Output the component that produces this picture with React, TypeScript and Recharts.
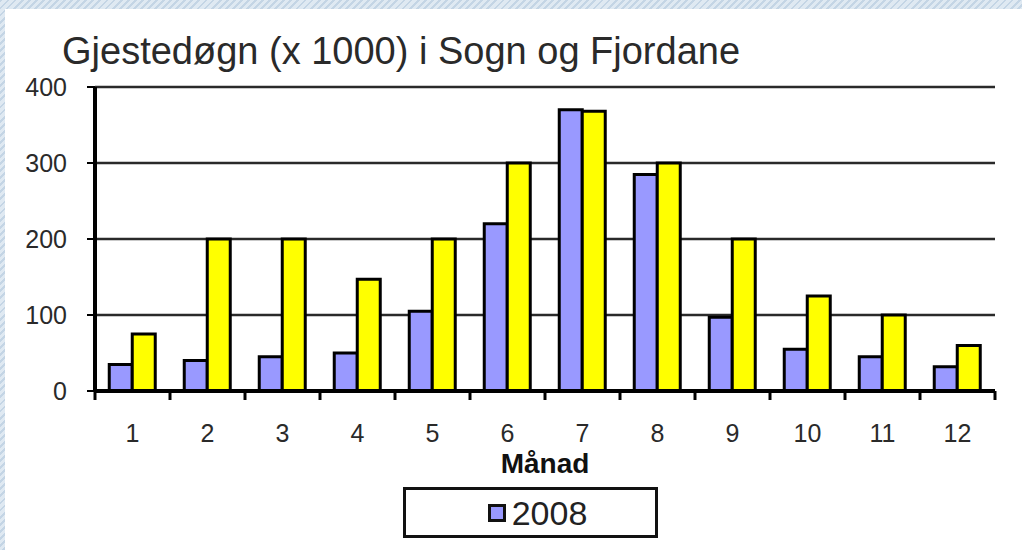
import React from 'react';
import { BarChart, Bar, XAxis, YAxis, CartesianGrid, Legend } from 'recharts';

// Gjestedøgn per month (x 1000)
const months = ['1', '2', '3', '4', '5', '6', '7', '8', '9', '10', '11', '12'];
const values2008 = [35, 40, 45, 50, 105, 220, 370, 285, 97, 55, 45, 32];
const valuesOther = [75, 200, 200, 147, 200, 300, 368, 300, 200, 125, 100, 60];
const yTicks = [0, 100, 200, 300, 400];

const FONT = '"Liberation Sans", Arial, sans-serif';
const W = 1022;
const H = 550;
const margin = { top: 87, right: 27, left: 0, bottom: 12 };
const Y_AXIS_W = 95;
const plotWidth = W - margin.left - margin.right - Y_AXIS_W;
const step = plotWidth / months.length;

const data = months.map((m, i) => ({
  month: m,
  y2008: values2008[i],
  other: valuesOther[i],
}));

const MonthTick = (props: any) => {
  const { x, y, payload, index } = props;
  const left = x - step / 2;
  const right = x + step / 2;
  return (
    <g>
      <line x1={left} x2={left} y1={y} y2={y + 9} stroke="#000" strokeWidth={3} />
      {index === months.length - 1 && (
        <line x1={right} x2={right} y1={y} y2={y + 9} stroke="#000" strokeWidth={3} />
      )}
      <text x={x} y={y + 51} textAnchor="middle" fontSize={25} fill="#2a2a2a" fontFamily={FONT}>
        {payload.value}
      </text>
    </g>
  );
};

const LegendBox = (props: any) => {
  const items = (props.payload || []).filter((p: any) => p.type !== 'none');
  return (
    <div
      style={{
        boxSizing: 'border-box',
        width: 255,
        height: 51,
        border: '3px solid #111',
        background: '#fff',
        display: 'flex',
        alignItems: 'center',
        justifyContent: 'center',
        paddingLeft: 14,
        fontFamily: FONT,
      }}
    >
      {items.map((item: any) => (
        <div key={item.value} style={{ display: 'flex', alignItems: 'center' }}>
          <span
            style={{
              boxSizing: 'border-box',
              display: 'inline-block',
              width: 18,
              height: 18,
              background: item.color,
              border: '3px solid #111',
              marginRight: 6,
            }}
          />
          <span style={{ fontSize: 34, color: '#222', lineHeight: 1 }}>{item.value}</span>
        </div>
      ))}
    </div>
  );
};

export default function App() {
  return (
    <div
      style={{
        position: 'absolute',
        top: 0,
        left: 0,
        width: W,
        height: H,
        overflow: 'hidden',
        background: 'repeating-linear-gradient(135deg, #c4d5e5 0px, #c4d5e5 2px, #dfe9f2 2px, #dfe9f2 5px)',
      }}
    >
      <div style={{ position: 'absolute', left: 5, top: 9, right: 0, bottom: 0, background: '#fff' }} />
      <div
        style={{
          position: 'absolute',
          left: 62,
          top: 32,
          fontFamily: FONT,
          fontSize: 38,
          lineHeight: 1,
          color: '#2a2a2a',
          whiteSpace: 'nowrap',
        }}
      >
        Gjestedøgn (x 1000) i Sogn og Fjordane
      </div>
      <div style={{ position: 'absolute', left: 0, top: 0 }}>
        <BarChart
          width={W}
          height={H}
          data={data}
          margin={margin}
          barCategoryGap="19%"
          barGap={0}
        >
          <CartesianGrid vertical={false} stroke="#2a2a2a" strokeWidth={2.5} />
          <XAxis
            dataKey="month"
            height={96}
            tickLine={false}
            tickSize={0}
            tickMargin={0}
            axisLine={{ stroke: '#000', strokeWidth: 4 }}
            tick={<MonthTick />}
            interval={0}
            label={{
              value: 'Månad',
              position: 'insideTop',
              offset: 62,
              fontSize: 28,
              fontWeight: 'bold',
              fill: '#111',
              fontFamily: FONT,
            }}
          />
          <YAxis
            width={Y_AXIS_W}
            domain={[0, 400]}
            ticks={yTicks}
            tickSize={8}
            tickMargin={20}
            tickLine={{ stroke: '#000', strokeWidth: 2 }}
            axisLine={{ stroke: '#000', strokeWidth: 4 }}
            tick={{ fontSize: 25, fill: '#2a2a2a', fontFamily: FONT }}
          />
          <YAxis
            yAxisId="frame"
            orientation="right"
            width={0}
            domain={[0, 400]}
            tick={false}
            tickLine={false}
            axisLine={{ stroke: '#000', strokeWidth: 4 }}
          />
          <Legend
            verticalAlign="bottom"
            content={<LegendBox />}
            wrapperStyle={{ left: 403, bottom: 12, width: 255 }}
          />
          <Bar
            dataKey="y2008"
            name="2008"
            fill="#9999ff"
            stroke="#000"
            strokeWidth={3}
            isAnimationActive={false}
          />
          <Bar
            dataKey="other"
            name="other"
            legendType="none"
            fill="#ffff00"
            stroke="#000"
            strokeWidth={3}
            isAnimationActive={false}
          />
        </BarChart>
      </div>
    </div>
  );
}
